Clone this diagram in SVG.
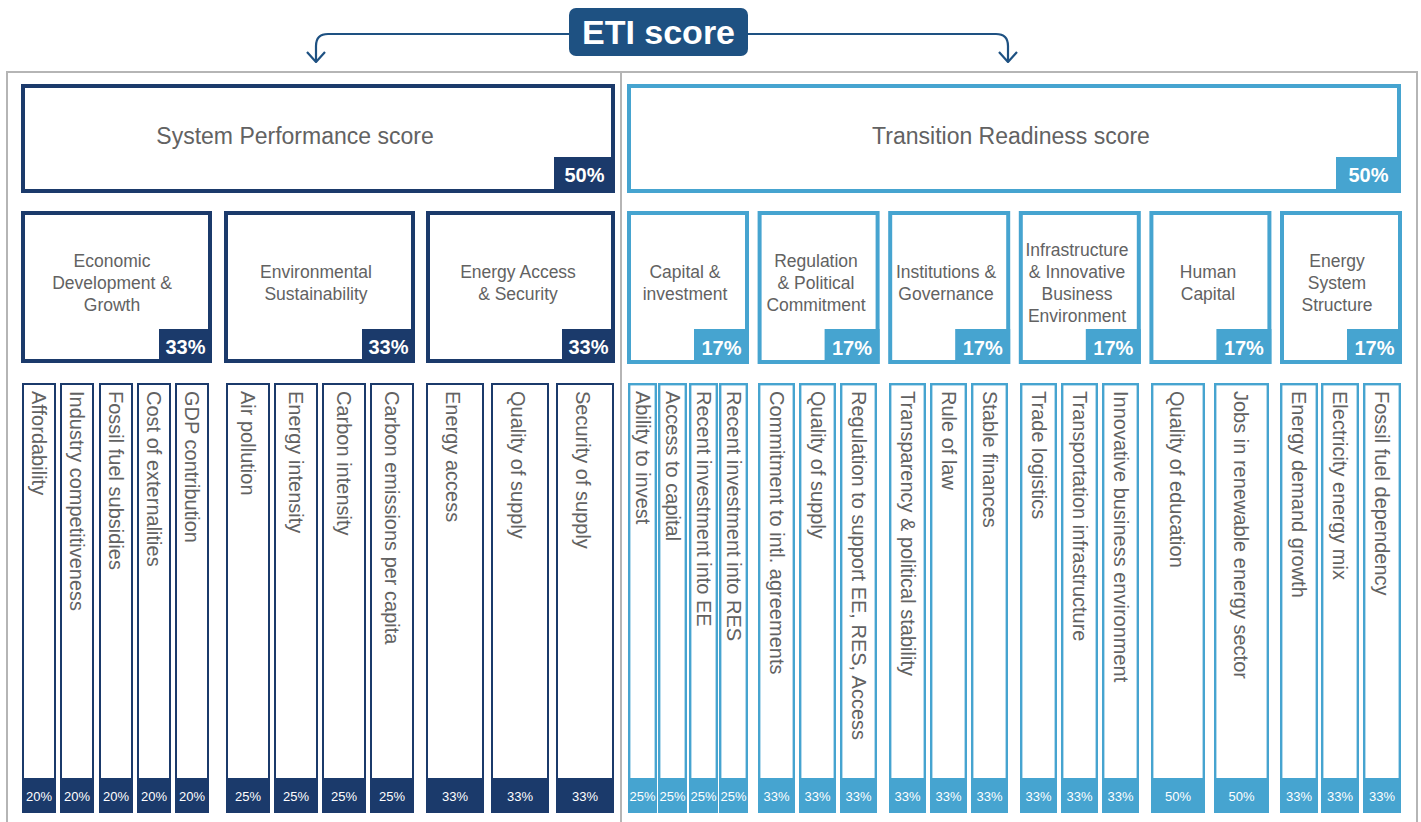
<svg xmlns="http://www.w3.org/2000/svg" width="1421" height="822" viewBox="0 0 1421 822">
<defs>
<style>
.frame{fill:none;stroke:#b5b5b5;stroke-width:2}
.conn{fill:none;stroke:#1e5182;stroke-width:2.2}
.bigN{fill:#fff;stroke:#1b3a6b;stroke-width:4}
.bigB{fill:#fff;stroke:#46a4d0;stroke-width:4}
.fN{fill:#1b3a6b}
.fB{fill:#46a4d0}
.colN{fill:#fff;stroke:#1b3a6b;stroke-width:2}
.colB{fill:#fff;stroke:#46a4d0;stroke-width:2.4}
.t{font-family:"Liberation Sans",Arial,sans-serif;fill:#626262}
.big{font-size:23px;text-anchor:middle}
.cat{font-size:17.5px;text-anchor:middle}
.ind{font-size:20px}
.pct{font-family:"Liberation Sans",Arial,sans-serif;font-weight:bold;font-size:20px;fill:#fff;text-anchor:middle}
.pcs{font-family:"Liberation Sans",Arial,sans-serif;font-size:13px;fill:#fff;text-anchor:middle}
.eti{font-family:"Liberation Sans",Arial,sans-serif;font-weight:bold;font-size:34px;fill:#fff;text-anchor:middle}
</style>
<marker id="chev" viewBox="0 0 12 20" refX="11" refY="10" markerWidth="12" markerHeight="20" markerUnits="userSpaceOnUse" orient="auto">
<path d="M1 1 L11 10 L1 19" fill="none" stroke="#1e5182" stroke-width="2.2"/>
</marker>
</defs>
<rect width="1421" height="822" fill="#fff"/>
<g id="frame">
<path class="frame" d="M7 822 V72 H1417 V822"/>
<path class="frame" d="M621 72 V822"/>
</g>
<g id="connectors">
<path class="conn" d="M569 34 H328 Q316 34 316 46 V62" marker-end="url(#chev)"/>
<path class="conn" d="M748 34 H996 Q1008 34 1008 46 V62" marker-end="url(#chev)"/>
</g>
<g id="eti">
<rect x="569" y="8" width="179" height="48" rx="7" fill="#1e5182"/>
<text class="eti" x="658.5" y="44">ETI score</text>
</g>
<g id="system-performance">
<rect class="bigN" x="23" y="86" width="590" height="105"/>
<rect class="fN" x="554" y="157" width="61" height="36"/>
<text class="pct" x="584.5" y="182">50%</text>
<text class="t big" x="295" y="144">System Performance score</text>
</g>
<g id="transition-readiness">
<rect class="bigB" x="629" y="86" width="770" height="105"/>
<rect class="fB" x="1336" y="157" width="65" height="36"/>
<text class="pct" x="1368.5" y="182">50%</text>
<text class="t big" x="1011" y="144">Transition Readiness score</text>
</g>
<g id="cat-economic">
<rect class="bigN" x="23" y="213" width="187" height="148"/>
<rect class="fN" x="159" y="329" width="53" height="34"/>
<text class="pct" x="185.5" y="354">33%</text>
<text class="t cat" x="112"><tspan x="112" y="267">Economic</tspan><tspan x="112" y="289">Development &amp;</tspan><tspan x="112" y="311">Growth</tspan></text>
</g>
<g id="cat-environmental">
<rect class="bigN" x="226" y="213" width="187" height="148"/>
<rect class="fN" x="362" y="329" width="53" height="34"/>
<text class="pct" x="388.5" y="354">33%</text>
<text class="t cat"><tspan x="316" y="278">Environmental</tspan><tspan x="316" y="300">Sustainability</tspan></text>
</g>
<g id="cat-energy-access">
<rect class="bigN" x="428" y="213" width="185" height="148"/>
<rect class="fN" x="562" y="329" width="53" height="34"/>
<text class="pct" x="588.5" y="354">33%</text>
<text class="t cat"><tspan x="518" y="278">Energy Access</tspan><tspan x="518" y="300">&amp; Security</tspan></text>
</g>
<g id="cat-capital">
<rect class="bigB" x="629" y="213" width="118" height="149"/>
<rect class="fB" x="694" y="329" width="55" height="35"/>
<text class="pct" x="721.5" y="355">17%</text>
<text class="t cat"><tspan x="685" y="278">Capital &amp;</tspan><tspan x="685" y="300">investment</tspan></text>
</g>
<g id="cat-regulation">
<rect class="bigB" x="759.6" y="213" width="118" height="149"/>
<rect class="fB" x="824.6" y="329" width="55" height="35"/>
<text class="pct" x="852" y="355">17%</text>
<text class="t cat"><tspan x="816" y="267">Regulation</tspan><tspan x="816" y="289">&amp; Political</tspan><tspan x="816" y="311">Commitment</tspan></text>
</g>
<g id="cat-institutions">
<rect class="bigB" x="890.2" y="213" width="118" height="149"/>
<rect class="fB" x="955.2" y="329" width="55" height="35"/>
<text class="pct" x="982.7" y="355">17%</text>
<text class="t cat"><tspan x="946" y="278">Institutions &amp;</tspan><tspan x="946" y="300">Governance</tspan></text>
</g>
<g id="cat-infrastructure">
<rect class="bigB" x="1020.8" y="213" width="118" height="149"/>
<rect class="fB" x="1085.8" y="329" width="55" height="35"/>
<text class="pct" x="1113.3" y="355">17%</text>
<text class="t cat"><tspan x="1077" y="256">Infrastructure</tspan><tspan x="1077" y="278">&amp; Innovative</tspan><tspan x="1077" y="300">Business</tspan><tspan x="1077" y="322">Environment</tspan></text>
</g>
<g id="cat-human">
<rect class="bigB" x="1151.4" y="213" width="118" height="149"/>
<rect class="fB" x="1216.4" y="329" width="55" height="35"/>
<text class="pct" x="1243.9" y="355">17%</text>
<text class="t cat"><tspan x="1208" y="278">Human</tspan><tspan x="1208" y="300">Capital</tspan></text>
</g>
<g id="cat-energy-system">
<rect class="bigB" x="1282" y="213" width="118" height="149"/>
<rect class="fB" x="1347" y="329" width="55" height="35"/>
<text class="pct" x="1374.5" y="355">17%</text>
<text class="t cat"><tspan x="1337" y="267">Energy</tspan><tspan x="1337" y="289">System</tspan><tspan x="1337" y="311">Structure</tspan></text>
</g>

<g id="ind-affordability"><rect class="colN" x="23" y="384" width="32" height="428"/><rect class="fN" x="22" y="778" width="34" height="35"/><text class="pcs" x="39" y="801">20%</text><text class="t ind" transform="translate(32,391) rotate(90)">Affordability</text></g>
<g id="ind-industry"><rect class="colN" x="61" y="384" width="32" height="428"/><rect class="fN" x="60" y="778" width="34" height="35"/><text class="pcs" x="77" y="801">20%</text><text class="t ind" transform="translate(70,391) rotate(90)">Industry competitiveness</text></g>
<g id="ind-fossil-subsidies"><rect class="colN" x="100" y="384" width="32" height="428"/><rect class="fN" x="99" y="778" width="34" height="35"/><text class="pcs" x="116" y="801">20%</text><text class="t ind" transform="translate(109,391) rotate(90)">Fossil fuel subsidies</text></g>
<g id="ind-externalities"><rect class="colN" x="138" y="384" width="32" height="428"/><rect class="fN" x="137" y="778" width="34" height="35"/><text class="pcs" x="154" y="801">20%</text><text class="t ind" transform="translate(147,391) rotate(90)">Cost of externalities</text></g>
<g id="ind-gdp"><rect class="colN" x="176" y="384" width="32" height="428"/><rect class="fN" x="175" y="778" width="34" height="35"/><text class="pcs" x="192" y="801">20%</text><text class="t ind" transform="translate(185,391) rotate(90)">GDP contribution</text></g>

<g id="ind-air"><rect class="colN" x="227" y="384" width="42" height="428"/><rect class="fN" x="226" y="778" width="44" height="35"/><text class="pcs" x="248" y="801">25%</text><text class="t ind" transform="translate(241,391) rotate(90)">Air pollution</text></g>
<g id="ind-energy-intensity"><rect class="colN" x="275" y="384" width="42" height="428"/><rect class="fN" x="274" y="778" width="44" height="35"/><text class="pcs" x="296" y="801">25%</text><text class="t ind" transform="translate(289,391) rotate(90)">Energy intensity</text></g>
<g id="ind-carbon-intensity"><rect class="colN" x="323" y="384" width="42" height="428"/><rect class="fN" x="322" y="778" width="44" height="35"/><text class="pcs" x="344" y="801">25%</text><text class="t ind" transform="translate(337,391) rotate(90)">Carbon intensity</text></g>
<g id="ind-carbon-emissions"><rect class="colN" x="371" y="384" width="42" height="428"/><rect class="fN" x="370" y="778" width="44" height="35"/><text class="pcs" x="392" y="801">25%</text><text class="t ind" transform="translate(385,391) rotate(90)">Carbon emissions per capita</text></g>

<g id="ind-energy-access"><rect class="colN" x="427" y="384" width="56" height="428"/><rect class="fN" x="426" y="778" width="58" height="35"/><text class="pcs" x="455" y="801">33%</text><text class="t ind" transform="translate(446,391) rotate(90)">Energy access</text></g>
<g id="ind-quality-supply-1"><rect class="colN" x="492" y="384" width="56" height="428"/><rect class="fN" x="491" y="778" width="58" height="35"/><text class="pcs" x="520" y="801">33%</text><text class="t ind" transform="translate(511,391) rotate(90)">Quality of supply</text></g>
<g id="ind-security-supply"><rect class="colN" x="557" y="384" width="56" height="428"/><rect class="fN" x="556" y="778" width="58" height="35"/><text class="pcs" x="585" y="801">33%</text><text class="t ind" transform="translate(576,391) rotate(90)">Security of supply</text></g>

<g id="ind-ability-invest"><rect class="colB" x="629.2" y="384.2" width="26.6" height="427.6"/><rect class="fB" x="628" y="778" width="29" height="35"/><text class="pcs" x="642.5" y="801">25%</text><text class="t ind" transform="translate(635.5,391) rotate(90)">Ability to invest</text></g>
<g id="ind-access-capital"><rect class="colB" x="659.2" y="384.2" width="26.6" height="427.6"/><rect class="fB" x="658" y="778" width="29" height="35"/><text class="pcs" x="672.5" y="801">25%</text><text class="t ind" transform="translate(665.5,391) rotate(90)">Access to capital</text></g>
<g id="ind-invest-ee"><rect class="colB" x="690.2" y="384.2" width="26.6" height="427.6"/><rect class="fB" x="689" y="778" width="29" height="35"/><text class="pcs" x="703.5" y="801">25%</text><text class="t ind" transform="translate(696.5,391) rotate(90)">Recent investment into EE</text></g>
<g id="ind-invest-res"><rect class="colB" x="720.2" y="384.2" width="26.6" height="427.6"/><rect class="fB" x="719" y="778" width="29" height="35"/><text class="pcs" x="733.5" y="801">25%</text><text class="t ind" transform="translate(726.5,391) rotate(90)">Recent investment into RES</text></g>

<g id="ind-commitment"><rect class="colB" x="759.2" y="384.2" width="34.6" height="427.6"/><rect class="fB" x="758" y="778" width="37" height="35"/><text class="pcs" x="776.5" y="801">33%</text><text class="t ind" transform="translate(769.5,391) rotate(90)">Commitment to intl. agreements</text></g>
<g id="ind-quality-supply-2"><rect class="colB" x="800.2" y="384.2" width="34.6" height="427.6"/><rect class="fB" x="799" y="778" width="37" height="35"/><text class="pcs" x="817.5" y="801">33%</text><text class="t ind" transform="translate(810.5,391) rotate(90)">Quality of supply</text></g>
<g id="ind-regulation"><rect class="colB" x="841.2" y="384.2" width="34.6" height="427.6"/><rect class="fB" x="840" y="778" width="37" height="35"/><text class="pcs" x="858.5" y="801">33%</text><text class="t ind" transform="translate(851.5,391) rotate(90)">Regulation to support EE, RES, Access</text></g>

<g id="ind-transparency"><rect class="colB" x="890.2" y="384.2" width="34.6" height="427.6"/><rect class="fB" x="889" y="778" width="37" height="35"/><text class="pcs" x="907.5" y="801">33%</text><text class="t ind" transform="translate(900.5,391) rotate(90)">Transparency &amp; political stability</text></g>
<g id="ind-rule-law"><rect class="colB" x="931.2" y="384.2" width="34.6" height="427.6"/><rect class="fB" x="930" y="778" width="37" height="35"/><text class="pcs" x="948.5" y="801">33%</text><text class="t ind" transform="translate(941.5,391) rotate(90)">Rule of law</text></g>
<g id="ind-stable-finances"><rect class="colB" x="972.2" y="384.2" width="34.6" height="427.6"/><rect class="fB" x="971" y="778" width="37" height="35"/><text class="pcs" x="989.5" y="801">33%</text><text class="t ind" transform="translate(982.5,391) rotate(90)">Stable finances</text></g>

<g id="ind-trade"><rect class="colB" x="1021.2" y="384.2" width="34.6" height="427.6"/><rect class="fB" x="1020" y="778" width="37" height="35"/><text class="pcs" x="1038.5" y="801">33%</text><text class="t ind" transform="translate(1031.5,391) rotate(90)">Trade logistics</text></g>
<g id="ind-transport"><rect class="colB" x="1062.2" y="384.2" width="34.6" height="427.6"/><rect class="fB" x="1061" y="778" width="37" height="35"/><text class="pcs" x="1079.5" y="801">33%</text><text class="t ind" transform="translate(1072.5,391) rotate(90)">Transportation infrastructure</text></g>
<g id="ind-innovative"><rect class="colB" x="1103.2" y="384.2" width="34.6" height="427.6"/><rect class="fB" x="1102" y="778" width="37" height="35"/><text class="pcs" x="1120.5" y="801">33%</text><text class="t ind" transform="translate(1113.5,391) rotate(90)">Innovative business environment</text></g>

<g id="ind-education"><rect class="colB" x="1152.2" y="384.2" width="51.6" height="427.6"/><rect class="fB" x="1151" y="778" width="54" height="35"/><text class="pcs" x="1178" y="801">50%</text><text class="t ind" transform="translate(1170,391) rotate(90)">Quality of education</text></g>
<g id="ind-jobs"><rect class="colB" x="1215.2" y="384.2" width="52.6" height="427.6"/><rect class="fB" x="1214" y="778" width="55" height="35"/><text class="pcs" x="1241.5" y="801">50%</text><text class="t ind" transform="translate(1233.5,391) rotate(90)">Jobs in renewable energy sector</text></g>

<g id="ind-demand"><rect class="colB" x="1281.2" y="384.2" width="35.6" height="427.6"/><rect class="fB" x="1280" y="778" width="38" height="35"/><text class="pcs" x="1299" y="801">33%</text><text class="t ind" transform="translate(1292,391) rotate(90)">Energy demand growth</text></g>
<g id="ind-mix"><rect class="colB" x="1322.2" y="384.2" width="35.6" height="427.6"/><rect class="fB" x="1321" y="778" width="38" height="35"/><text class="pcs" x="1340" y="801">33%</text><text class="t ind" transform="translate(1333,391) rotate(90)">Electricity energy mix</text></g>
<g id="ind-dependency"><rect class="colB" x="1364.2" y="384.2" width="35.6" height="427.6"/><rect class="fB" x="1363" y="778" width="38" height="35"/><text class="pcs" x="1382" y="801">33%</text><text class="t ind" transform="translate(1375,391) rotate(90)">Fossil fuel dependency</text></g>
</svg>
